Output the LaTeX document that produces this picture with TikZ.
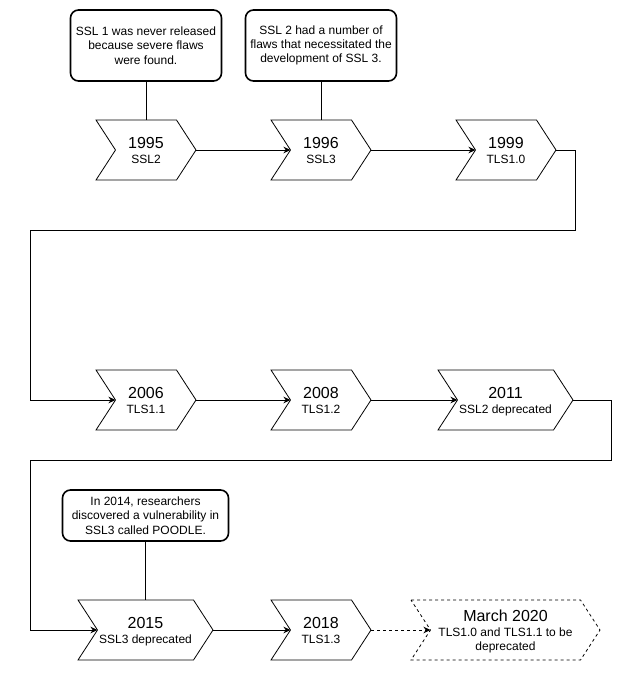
\documentclass[tikz,border=0pt]{standalone}
\usepackage{fontspec}
\setmainfont{Liberation Sans}
\usetikzlibrary{arrows.meta}
\tikzset{
  chevshape/.style={line width=0.8pt, draw=black, fill=white, line join=miter},
  yeartext/.style={font=\fontsize{16}{18}\selectfont, anchor=base, inner sep=0pt},
  subtext/.style={font=\fontsize{12}{14}\selectfont, anchor=base, inner sep=0pt},
  callout/.style={draw=black, line width=1.6pt, rounded corners=8pt, fill=white, align=center,
    font=\fontsize{12}{14.3}\selectfont, inner sep=0pt},
  flow/.style={line width=0.8pt, -{Stealth[length=7pt,width=6.5pt,inset=2.2pt]}},
  link/.style={line width=0.8pt},
  dashedline/.style={dash pattern=on 3pt off 3pt}
}
\newcommand{\chev}[5][]{%
  \draw[chevshape,#1] (#3,#5-30) -- (#4-19.5,#5-30) -- (#4,#5) -- (#4-19.5,#5+30) -- (#3,#5+30) -- (#3+19.5,#5) -- cycle;
  \coordinate (#2-in) at (#3+19.5,#5);
  \coordinate (#2-out) at (#4,#5);
  \coordinate (#2-top) at ({(#3+#4)/2},#5-30);
}
\begin{document}
\begin{tikzpicture}[x=1pt,y=-1pt]
\fill[white] (0,0) rectangle (631,691);
\useasboundingbox (0,0) rectangle (631,691);

% row 1
\chev{c1995}{96}{196}{150}
\chev{c1996}{271}{371}{150}
\chev{c1999}{456}{556}{150}
\node[yeartext] (y1995) at (146,148.5) {1995};
\node[subtext] (s1995) at (146,163.5) {SSL2};
\node[yeartext] (y1996) at (321,148.5) {1996};
\node[subtext] (s1996) at (321,163.5) {SSL3};
\node[yeartext] (y1999) at (506,148.5) {1999};
\node[subtext] (s1999) at (506,163.5) {TLS1.0};

% row 2
\chev{c2006}{96}{196}{400}
\chev{c2008}{271}{371}{400}
\chev{c2011}{438}{573}{400}
\node[yeartext] (y2006) at (146,398.5) {2006};
\node[subtext] (s2006) at (146,413.5) {TLS1.1};
\node[yeartext] (y2008) at (321,398.5) {2008};
\node[subtext] (s2008) at (321,413.5) {TLS1.2};
\node[yeartext] (y2011) at (505.5,398.5) {2011};
\node[subtext] (s2011) at (505.5,413.5) {SSL2 deprecated};

% row 3
\chev{c2015}{78}{213}{630}
\chev{c2018}{271}{371}{630}
\chev[dashedline]{c2020}{411}{600}{630}
\node[yeartext] (y2015) at (145.5,628.5) {2015};
\node[subtext] (s2015) at (145.5,643.5) {SSL3 deprecated};
\node[yeartext] (y2018) at (321,628.5) {2018};
\node[subtext] (s2018) at (321,643.5) {TLS1.3};
\node[yeartext] (y2020) at (505.5,621.5) {March 2020};
\node[subtext] (s2020a) at (505.5,636) {TLS1.0 and TLS1.1 to be};
\node[subtext] (s2020b) at (505.5,650.5) {deprecated};

% callouts
\node[callout, minimum width=151pt, minimum height=71pt] (note1) at (146,45.5)
  {SSL 1 was never released\\because severe flaws\\were found.};
\node[callout, minimum width=151pt, minimum height=71pt] (note2) at (321,45.5)
  {SSL 2 had a number of\\flaws that necessitated the\\development of SSL 3.};
\node[callout, minimum width=166pt, minimum height=51pt] (note3) at (145.5,515.5)
  {In 2014, researchers\\discovered a vulnerability in\\SSL3 called POODLE.};

\draw[link] (note1.south) -- (c1995-top);
\draw[link] (note2.south) -- (c1996-top);
\draw[link] (note3.south) -- (c2015-top);

% bends
\coordinate (bend1) at (575.5,230);
\coordinate (bend2) at (30.5,230);
\coordinate (bend3) at (611,460);
\coordinate (bend4) at (30.5,460);

\draw[flow] (c1995-out) -- (c1996-in);
\draw[flow] (c1996-out) -- (c1999-in);
\draw[flow] (c1999-out) -| (bend1) -- (bend2) |- (c2006-in);
\draw[flow] (c2006-out) -- (c2008-in);
\draw[flow] (c2008-out) -- (c2011-in);
\draw[flow] (c2011-out) -| (bend3) -- (bend4) |- (c2015-in);
\draw[flow] (c2015-out) -- (c2018-in);
\draw[flow, dashedline] (c2018-out) -- (c2020-in);
\end{tikzpicture}
\end{document}
